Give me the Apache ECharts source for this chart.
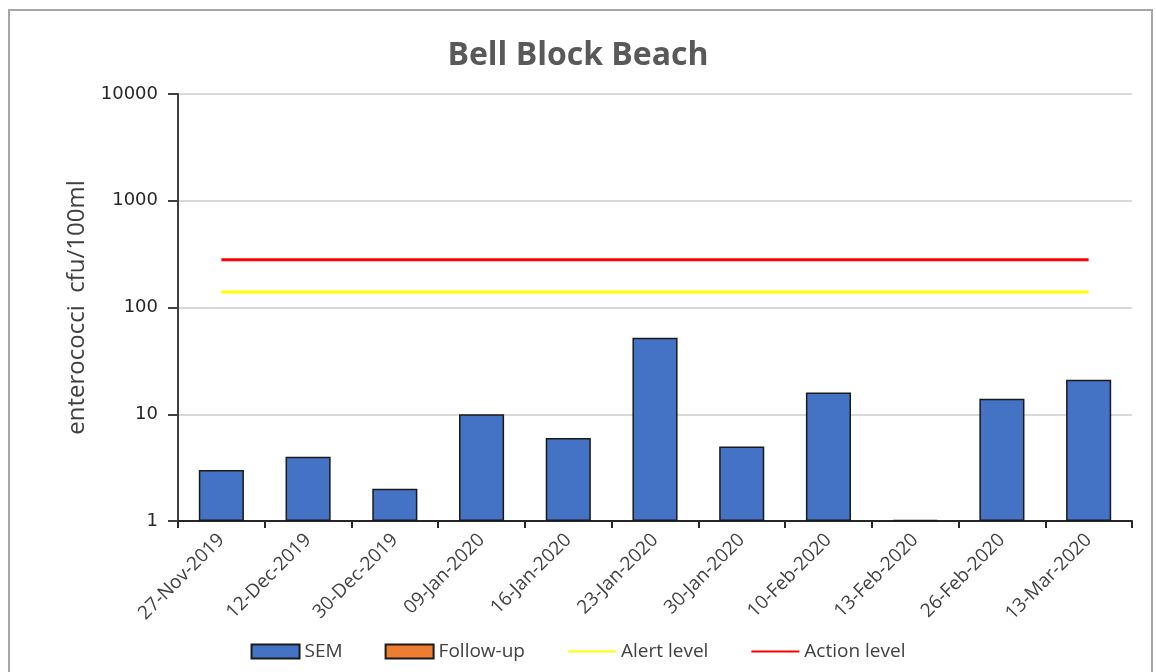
<!DOCTYPE html>
<html>
<head>
<meta charset="utf-8">
<script src="https://cdn.jsdelivr.net/npm/echarts@6/dist/echarts.min.js"></script>
<style>
html,body{margin:0;padding:0;background:#fff;}
#c{width:1156px;height:672px;}
</style>
</head>
<body>
<div id="c"></div>
<script>
const categories = ['27-Nov-2019','12-Dec-2019','30-Dec-2019','09-Jan-2020','16-Jan-2020','23-Jan-2020','30-Jan-2020','10-Feb-2020','13-Feb-2020','26-Feb-2020','13-Mar-2020'];
const semValues = [3, 4, 2, 10, 6, 52, 5, 16, 1.02, 14, 21];
const followUpValues = [null, null, null, null, null, null, null, null, null, null, null];
const alertLevel = [140, 140, 140, 140, 140, 140, 140, 140, 140, 140, 140];
const actionLevel = [280, 280, 280, 280, 280, 280, 280, 280, 280, 280, 280];
const yTicks = [1, 10, 100, 1000, 10000];

const chart = echarts.init(document.getElementById('c'));
const txt = '#404040';
chart.setOption({
  animation: false,
  backgroundColor: '#fff',
  graphic: [{
    type: 'rect',
    shape: {x: 9, y: 10, width: 1143, height: 700},
    style: {fill: 'none', stroke: '#a6a6a6', lineWidth: 2},
    silent: true
  }],
  title: {
    text: 'Bell Block Beach',
    left: 'center',
    top: 35,
    textStyle: {fontFamily: 'Open Sans', fontWeight: 'bold', fontSize: 32, color: '#595959'}
  },
  legend: {
    bottom: 6,
    left: 'center',
    itemGap: 42,
    itemWidth: 48,
    itemHeight: 14,
    textStyle: {fontFamily: 'Open Sans', fontSize: 19, color: txt},
    data: [
      {name: 'SEM', icon: 'rect'},
      {name: 'Follow-up', icon: 'rect'},
      {name: 'Alert level', itemStyle: {opacity: 0}},
      {name: 'Action level', itemStyle: {opacity: 0}}
    ]
  },
  grid: {left: 178, right: 24, top: 94, bottom: 151},
  xAxis: {
    type: 'category',
    data: categories,
    boundaryGap: true,
    axisLine: {lineStyle: {color: '#262626', width: 2}},
    axisTick: {show: true, alignWithLabel: false, length: 7, lineStyle: {color: '#262626', width: 2}},
    axisLabel: {rotate: 45, interval: 0, fontFamily: 'Open Sans', fontSize: 19, color: txt, margin: 16},
    splitLine: {show: false}
  },
  yAxis: {
    type: 'log',
    logBase: 10,
    min: yTicks[0],
    max: yTicks[yTicks.length - 1],
    name: 'enterococci  cfu/100ml',
    nameLocation: 'middle',
    nameGap: 89,
    nameTextStyle: {fontFamily: 'Open Sans', fontSize: 24, color: txt},
    axisLine: {show: true, lineStyle: {color: '#404040', width: 2}},
    axisTick: {show: true, length: 10, lineStyle: {color: '#404040', width: 2}},
    axisLabel: {fontFamily: 'DejaVu Sans', fontSize: 18, color: '#262626', margin: 20,
      formatter: function (v) { return String(Math.round(v)); }},
    splitLine: {show: true, lineStyle: {color: '#d9d9d9', width: 2}}
  },
  series: [
    {
      name: 'SEM',
      type: 'bar',
      data: semValues,
      barCategoryGap: '48%',
      barGap: '-100%',
      itemStyle: {color: '#4472C4', borderColor: '#1a1a1a', borderWidth: 1.5}
    },
    {
      name: 'Follow-up',
      type: 'bar',
      data: followUpValues,
      barGap: '-100%',
      itemStyle: {color: '#ED7D31', borderColor: '#1a1a1a', borderWidth: 1.5}
    },
    {
      name: 'Alert level',
      type: 'line',
      data: alertLevel,
      symbol: 'none',
      lineStyle: {color: '#FFFF00', width: 3},
      itemStyle: {color: '#FFFF00'}
    },
    {
      name: 'Action level',
      type: 'line',
      data: actionLevel,
      symbol: 'none',
      lineStyle: {color: '#FF0000', width: 3},
      itemStyle: {color: '#FF0000'}
    }
  ]
});
</script>
</body>
</html>
